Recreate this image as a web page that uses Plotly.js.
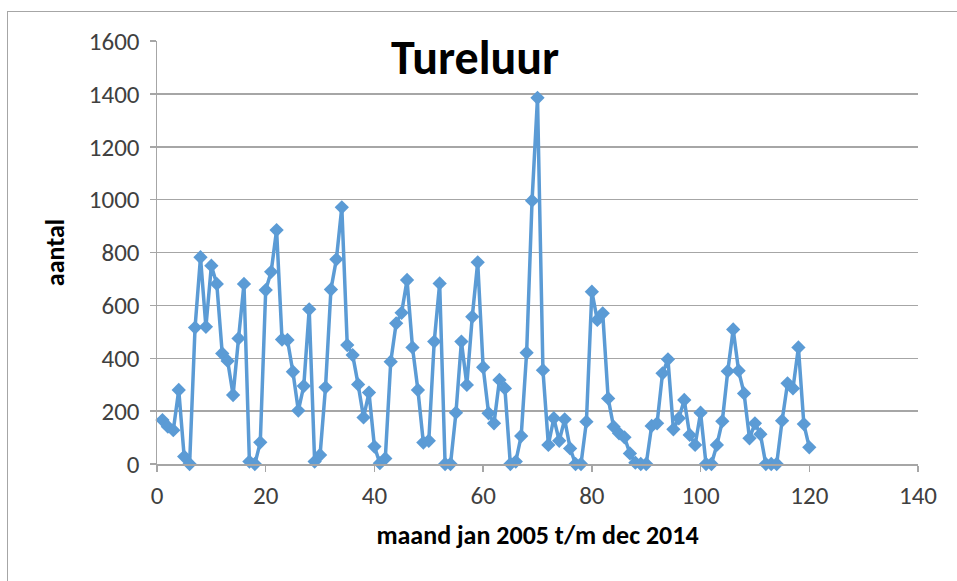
<!DOCTYPE html>
<html>
<head>
<meta charset="utf-8">
<script src="https://cdn.plot.ly/plotly-3.0.1.min.js"></script>
<style>
html,body{margin:0;padding:0;background:#fff;}
#wrap{position:relative;width:957px;height:581px;overflow:hidden;}
#chart{width:957px;height:581px;}
#frame{position:absolute;left:7px;top:11px;width:1000px;height:700px;border:1.5px solid #a6a6a6;pointer-events:none;box-sizing:border-box;}
</style>
</head>
<body>
<div id="wrap"><div id="chart"></div><div id="frame"></div></div>
<script>
const months = [];
for (let i = 1; i <= 120; i++) months.push(i);
const counts = [
  166, 141, 128, 280, 28, 0, 516, 782, 519, 750,
  681, 418, 390, 261, 475, 681, 9, 0, 82, 658,
  727, 885, 471, 469, 349, 202, 295, 585, 9, 34,
  290, 660, 774, 971, 450, 412, 301, 176, 270, 66,
  3, 21, 387, 532, 572, 696, 441, 280, 81, 88,
  463, 683, 0, 0, 194, 463, 299, 557, 763, 366,
  192, 154, 318, 286, 0, 9, 106, 421, 996, 1385,
  355, 72, 173, 88, 169, 59, 0, 0, 160, 652,
  545, 570, 248, 141, 116, 101, 40, 5, 0, 0,
  144, 154, 343, 396, 131, 173, 242, 110, 72, 194,
  0, 0, 72, 162, 351, 509, 353, 267, 97, 154,
  113, 0, 0, 0, 164, 305, 286, 441, 151, 63
];
const xTicks = [0, 20, 40, 60, 80, 100, 120, 140];
const yTicks = [0, 200, 400, 600, 800, 1000, 1200, 1400, 1600];
const chartTitle = 'Tureluur';
const xTitle = 'maand jan 2005 t/m dec 2014';
const yTitle = 'aantal';

const fam = 'Carlito, "Liberation Sans Narrow", "Liberation Sans", sans-serif';
const tickFont = {family: fam, size: 25, color: '#404040'};

Plotly.newPlot('chart', [{
  x: months, y: counts, type: 'scatter', mode: 'lines+markers',
  line: {color: '#5B9BD5', width: 3.5},
  marker: {symbol: 'diamond', size: 11, color: '#5B9BD5'},
  cliponaxis: false, hoverinfo: 'x+y'
}], {
  width: 957, height: 581,
  margin: {l: 157, r: 39, t: 41, b: 117},
  paper_bgcolor: '#ffffff', plot_bgcolor: '#ffffff',
  showlegend: false,
  title: {text: '<b>' + chartTitle + '</b>', x: 0.418, xref: 'paper', xanchor: 'center', y: 0.902, yanchor: 'middle',
          font: {family: fam, size: 48, color: '#000000'}},
  xaxis: {
    range: [0, 140], tickvals: xTicks, ticktext: xTicks.map(String),
    showgrid: false, zeroline: false, showline: true, linecolor: '#a6a6a6', linewidth: 1.5,
    ticks: 'outside', ticklen: 6, tickcolor: '#a6a6a6', tickwidth: 1.5,
    tickfont: tickFont, ticklabelstandoff: 2,
    title: {text: '<b>' + xTitle + '</b>', standoff: 16, font: {family: fam, size: 26, color: '#000000'}}
  },
  yaxis: {
    range: [0, 1600], tickvals: yTicks, ticktext: yTicks.map(String),
    showgrid: true, gridcolor: '#a6a6a6', gridwidth: 1.5, zeroline: false,
    showline: true, linecolor: '#a6a6a6', linewidth: 1.5,
    ticks: 'outside', ticklen: 6, tickcolor: '#a6a6a6', tickwidth: 1.5,
    tickfont: tickFont, ticklabelstandoff: 5,
    title: {text: '<b>' + yTitle + '</b>', standoff: 16, font: {family: fam, size: 26, color: '#000000'}}
  }
}, {displayModeBar: false, staticPlot: true});
</script>
</body>
</html>
